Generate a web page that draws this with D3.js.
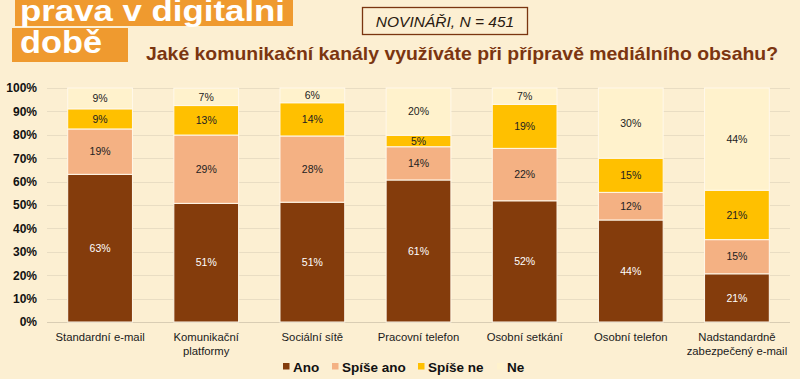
<!DOCTYPE html>
<html><head><meta charset="utf-8">
<script src="https://cdn.jsdelivr.net/npm/d3@7"></script>
<style>
html,body{margin:0;padding:0;background:#FCEFD2;}
svg{display:block;font-family:"Liberation Sans",Arial,sans-serif;}
</style></head><body>
<svg id="c" width="800" height="379"></svg>
<script>
const categories = ["Standardní e-mail","Komunikační platformy","Sociální sítě","Pracovní telefon","Osobní setkání","Osobní telefon","Nadstandardně zabezpečený e-mail"];
const categoryLines = [["Standardní e-mail"],["Komunikační","platformy"],["Sociální sítě"],["Pracovní telefon"],["Osobní setkání"],["Osobní telefon"],["Nadstandardně","zabezpečený e-mail"]];
const seriesNames = ["Ano","Spíše ano","Spíše ne","Ne"];
const ano      = [63.1, 50.7, 51.2, 60.7, 51.8, 43.6, 20.6];
const spiseAno = [19.4, 29.2, 28.3, 14.2, 22.4, 11.8, 14.6];
const spiseNe  = [ 8.6, 12.6, 14.2,  4.9, 18.8, 14.6, 21.1];
const ne       = [ 8.9,  7.4,  6.3, 20.2,  7.0, 30.0, 43.7];
const yTicks = [0,10,20,30,40,50,60,70,80,90,100];
const colors = ["#843C0C","#F4B183","#FFC000","#FFF2CC"];
const labelColors = ["#FFFFFF","#222222","#222222","#222222"];

const svg = d3.select("#c");
svg.append("rect").attr("width",800).attr("height",379).attr("fill","#FCEFD2");

// logo
svg.append("rect").attr("x",15).attr("y",-2).attr("width",278).attr("height",28).attr("fill","#EF9A2F");
svg.append("rect").attr("x",12).attr("y",28).attr("width",116).attr("height",34).attr("fill","#EF9A2F");
svg.append("text").attr("x",20).attr("y",21).attr("fill","#fff").attr("font-weight","bold")
  .attr("font-size",29).attr("textLength",265).attr("lengthAdjust","spacingAndGlyphs").text("prava v digitalni");
svg.append("text").attr("x",20).attr("y",53).attr("fill","#fff").attr("font-weight","bold")
  .attr("font-size",31).attr("textLength",82).attr("lengthAdjust","spacingAndGlyphs").text("době");

// N box
svg.append("rect").attr("x",362.5).attr("y",7.5).attr("width",165).attr("height",27).attr("fill","none").attr("stroke","#7A3510").attr("stroke-width",1.3);
svg.append("text").attr("x",445).attr("y",26.5).attr("text-anchor","middle").attr("font-style","italic")
  .attr("font-size",15.5).attr("fill","#2a1a10").text("NOVINÁŘI, N = 451");

// title
svg.append("text").attr("x",146).attr("y",59.5).attr("font-weight","bold").attr("font-size",19)
  .attr("textLength",632).attr("lengthAdjust","spacingAndGlyphs")
  .attr("fill","#7B3510").text("Jaké komunikační kanály využíváte při přípravě mediálního obsahu?");

const x = d3.scaleBand().domain(categories).range([47,790]).paddingInner(0.39).paddingOuter(0.195);
const y = d3.scaleLinear().domain([0,100]).range([322,88]);

// grid
svg.append("g").selectAll("line").data(yTicks).join("line")
  .attr("x1",47).attr("x2",790).attr("y1",d=>Math.round(y(d))+0.5).attr("y2",d=>Math.round(y(d))+0.5)
  .attr("stroke",d=>d===0?"#D9CDB4":"#E9DDC3").attr("stroke-width",1);

// y axis
const yAxis = d3.axisLeft(y).tickValues(yTicks).tickFormat(d=>d+"%").tickSize(0).tickPadding(0);
const gy = svg.append("g").attr("transform","translate(37,0)").call(yAxis);
gy.select(".domain").remove();
gy.selectAll("text").attr("font-size",12).attr("font-weight","bold").attr("fill","#111").attr("font-family","Liberation Sans, Arial, sans-serif");

// stacked data
const rows = categories.map((c,i)=>({cat:c, "Ano":ano[i], "Spíše ano":spiseAno[i], "Spíše ne":spiseNe[i], "Ne":ne[i]}));
const stacked = d3.stack().keys(seriesNames)(rows);

const gs = svg.append("g").selectAll("g").data(stacked).join("g").attr("fill",(d,i)=>colors[i]);
gs.selectAll("rect").data(d=>d).join("rect")
  .attr("x",d=>x(d.data.cat)).attr("width",x.bandwidth())
  .attr("y",d=>y(d[1])).attr("height",d=>y(d[0])-y(d[1]))
  .attr("stroke","#FFF8EA").attr("stroke-width",1);

const gl = svg.append("g").selectAll("g").data(stacked).join("g").attr("fill",(d,i)=>labelColors[i]);
gl.selectAll("text").data(d=>d).join("text")
  .attr("x",d=>x(d.data.cat)+x.bandwidth()/2)
  .attr("y",d=>(y(d[0])+y(d[1]))/2).attr("dy","0.36em")
  .attr("text-anchor","middle").attr("font-size",10.5)
  .text(d=>Math.round(d[1]-d[0])+"%");

// x labels
const gx = svg.append("g");
categories.forEach((c,i)=>{
  const t = gx.append("text").attr("x",x(c)+x.bandwidth()/2).attr("y",340.5).attr("text-anchor","middle")
    .attr("font-size",11.3).attr("fill","#1a1a1a");
  categoryLines[i].forEach((ln,j)=>t.append("tspan").attr("x",x(c)+x.bandwidth()/2).attr("dy",j?14:0).text(ln));
});

// legend
const legendX = [283,332,418,497];
const lg = svg.append("g");
seriesNames.forEach((s,i)=>{
  lg.append("rect").attr("x",legendX[i]).attr("y",363).attr("width",6.5).attr("height",6.5).attr("fill",colors[i]);
  lg.append("text").attr("x",legendX[i]+10).attr("y",371.5).attr("font-size",13.5).attr("font-weight","bold").attr("fill","#111").text(s);
});
</script>
</body></html>
